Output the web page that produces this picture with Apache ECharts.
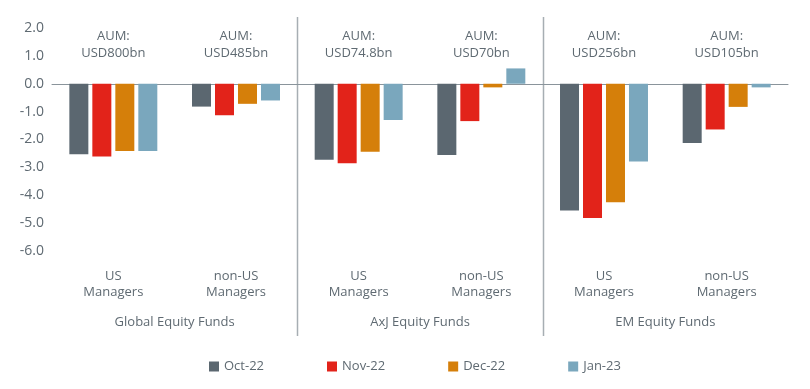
<!DOCTYPE html>
<html><head><meta charset="utf-8">
<script src="https://cdn.jsdelivr.net/npm/echarts@6/dist/echarts.min.js"></script>
<style>html,body{margin:0;padding:0;background:#fff}#c{width:810px;height:389px}</style>
</head><body><div id="c"></div>
<script>
const categories = ['US\nManagers','non-US\nManagers','US\nManagers','non-US\nManagers','US\nManagers','non-US\nManagers'];
const aumLabels = ['AUM:\nUSD800bn','AUM:\nUSD485bn','AUM:\nUSD74.8bn','AUM:\nUSD70bn','AUM:\nUSD256bn','AUM:\nUSD105bn'];
const groups = ['Global Equity Funds','AxJ Equity Funds','EM Equity Funds'];
const seriesNames = ['Oct-22','Nov-22','Dec-22','Jan-23'];
const oct22 = [-2.53,-0.82,-2.73,-2.56,-4.55,-2.13];
const nov22 = [-2.61,-1.13,-2.85,-1.34,-4.82,-1.64];
const dec22 = [-2.41,-0.72,-2.44,-0.13,-4.25,-0.83];
const jan23 = [-2.41,-0.60,-1.30,0.55,-2.79,-0.13];
const colors = ['#5b6770','#e2231a','#d57f0a','#7aa7bd'];
const FONT = 'Open Sans';
const TXT = '#5f6a72';
const chart = echarts.init(document.getElementById('c'));
const dataSets = [oct22,nov22,dec22,jan23];
chart.setOption({
  animation:false,
  textStyle:{fontFamily:FONT},
  grid:{left:52,right:22,top:28,bottom:138,containLabel:false},
  legend:{left:204,top:355,itemWidth:10,itemHeight:10,itemGap:63,icon:'rect',
    textStyle:{color:TXT,fontSize:13,fontFamily:FONT},data:seriesNames},
  xAxis:[
    {type:'category',data:categories,position:'bottom',
     axisLine:{onZero:true,lineStyle:{color:'#8a949b',width:1}},axisTick:{show:false},
     axisLabel:{color:TXT,fontSize:13,lineHeight:16,margin:17,interval:0,fontFamily:FONT}},
    {type:'category',data:aumLabels,position:'top',
     axisLine:{show:false},axisTick:{show:false},
     axisLabel:{inside:true,color:TXT,fontSize:13,lineHeight:17,margin:0,interval:0,fontFamily:FONT,verticalAlign:'top'}},
    {type:'category',data:groups,position:'bottom',offset:0,gridIndex:0,
     axisLine:{show:false},axisTick:{show:false},
     axisLabel:{color:TXT,fontSize:13,margin:65,interval:0,fontFamily:FONT}}
  ],
  yAxis:{type:'value',min:-6,max:2,interval:1,
    axisLine:{show:false},axisTick:{show:false},splitLine:{show:false},
    axisLabel:{color:TXT,fontSize:14,margin:8,fontFamily:FONT,formatter:v=>v.toFixed(1)}},
  series: seriesNames.map((n,i)=>({name:n,type:'bar',data:dataSets[i],xAxisIndex:0,
    barWidth:19,barGap:'21%',itemStyle:{color:colors[i]}}))
});
// separators between groups, computed from the category scale
const y0 = 17, y1 = 336;
const lines = [];
for (const b of [2,4]) {
  const xa = chart.convertToPixel({xAxisIndex:0}, b-1);
  const xb = chart.convertToPixel({xAxisIndex:0}, b);
  const x = Math.round((xa+xb)/2)+0.5;
  lines.push({type:'line',shape:{x1:x,y1:y0,x2:x,y2:y1},style:{stroke:'#a7aeb3',lineWidth:1.5},silent:true});
}
chart.setOption({graphic:lines});
</script></body></html>
